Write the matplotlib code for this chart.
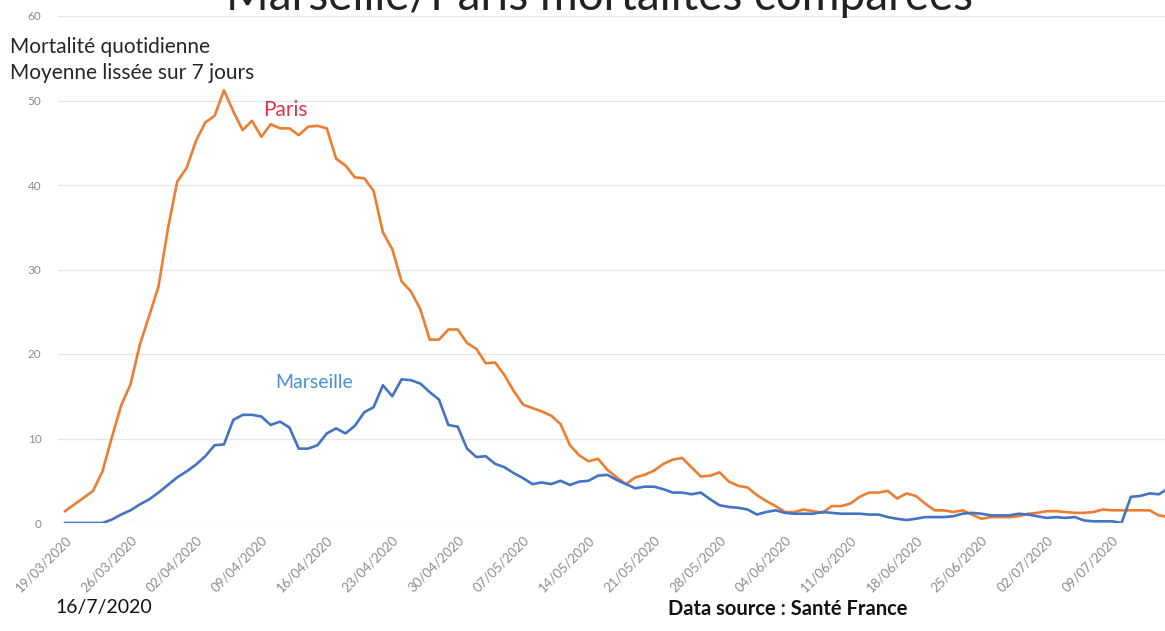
import matplotlib.pyplot as plt
import pandas as pd

plt.rcParams['font.family'] = ['Lato', 'DejaVu Sans']

# Daily mortality, 7-day smoothed mean, starting 19/03/2020
paris = [1.4, 2.2, 3.0, 3.8, 6.1, 10.1, 13.9, 16.4, 21.1, 24.5,
         28.0, 34.8, 40.4, 42.0, 45.2, 47.4, 48.2, 51.2, 48.7, 46.5,
         47.6, 45.7, 47.2, 46.7, 46.7, 45.9, 46.9, 47.0, 46.7, 43.1,
         42.3, 40.9, 40.8, 39.3, 34.4, 32.4, 28.6, 27.4, 25.3, 21.7,
         21.7, 22.9, 22.9, 21.3, 20.6, 18.9, 19.0, 17.5, 15.6, 14.0,
         13.6, 13.2, 12.7, 11.7, 9.2, 8.0, 7.3, 7.6, 6.3, 5.4,
         4.6, 5.4, 5.7, 6.2, 7.0, 7.5, 7.7, 6.6, 5.5, 5.6,
         6.0, 4.9, 4.4, 4.2, 3.3, 2.6, 2.0, 1.3, 1.3, 1.6,
         1.4, 1.2, 2.0, 2.0, 2.3, 3.1, 3.6, 3.6, 3.8, 2.9,
         3.5, 3.2, 2.3, 1.5, 1.5, 1.3, 1.5, 1.0, 0.5, 0.7,
         0.7, 0.7, 0.8, 1.1, 1.2, 1.4, 1.4, 1.3, 1.2, 1.2,
         1.3, 1.6, 1.5, 1.5, 1.5, 1.5, 1.5, 0.9, 0.7]

marseille = [0.0, 0.0, 0.0, 0.0, 0.0, 0.4, 1.0, 1.5, 2.2, 2.8,
             3.6, 4.5, 5.4, 6.1, 6.9, 7.9, 9.2, 9.3, 12.2, 12.8,
             12.8, 12.6, 11.6, 12.0, 11.3, 8.8, 8.8, 9.2, 10.6, 11.2,
             10.6, 11.5, 13.1, 13.7, 16.3, 15.0, 17.0, 16.9, 16.5, 15.5,
             14.6, 11.6, 11.4, 8.8, 7.8, 7.9, 7.0, 6.6, 5.9, 5.3,
             4.6, 4.8, 4.6, 5.0, 4.5, 4.9, 5.0, 5.6, 5.7, 5.1,
             4.6, 4.1, 4.3, 4.3, 4.0, 3.6, 3.6, 3.4, 3.6, 2.8,
             2.1, 1.9, 1.8, 1.6, 1.0, 1.3, 1.5, 1.2, 1.1, 1.1,
             1.1, 1.3, 1.2, 1.1, 1.1, 1.1, 1.0, 1.0, 0.7, 0.5,
             0.35, 0.5, 0.7, 0.7, 0.7, 0.8, 1.1, 1.2, 1.1, 0.9,
             0.9, 0.9, 1.1, 1.0, 0.8, 0.6, 0.7, 0.6, 0.7, 0.3,
             0.2, 0.2, 0.2, 0.0, 3.1, 3.2, 3.5, 3.4, 4.1]

dates = pd.date_range('2020-03-19', periods=len(paris), freq='D')
tick_dates = dates[::7]
tick_labels = [d.strftime('%d/%m/%Y') for d in tick_dates]

fig = plt.figure(figsize=(11.65, 6.31), dpi=100)
ax = fig.add_axes([58 / 1165, 108 / 631, 1 - 58 / 1165, 507 / 631])

ax.plot(dates, paris, color='#ED7D31', lw=1.9)
ax.plot(dates, marseille, color='#4472C4', lw=1.9)

ax.set_ylim(0, 60)
ax.set_yticks(range(0, 61, 10))
ax.set_xlim(dates[0] - pd.Timedelta(hours=18), dates[0] + pd.Timedelta(days=117.65))
ax.set_xticks(tick_dates)
ax.set_xticklabels(tick_labels, rotation=45, ha='right', rotation_mode='anchor')

ax.grid(axis='y', color='#e6e6e6', lw=1)
ax.set_axisbelow(True)
for s in ax.spines.values():
    s.set_visible(False)
ax.tick_params(axis='both', length=0, labelcolor='#8c8c8c')
ax.tick_params(axis='y', pad=12, labelsize=8.5)
ax.tick_params(axis='x', pad=8, labelsize=9.5)

fig.text(0.515, 1 - 10 / 631, 'Marseille/Paris mortalités comparées',
         ha='center', va='baseline', fontsize=33, color='#222222')
fig.text(10 / 1165, 1 - 47 / 631, 'Mortalité quotidienne', ha='left', va='center',
         fontsize=15, color='#262626')
fig.text(10 / 1165, 1 - 73 / 631, 'Moyenne lissée sur 7 jours', ha='left', va='center',
         fontsize=15, color='#262626')
fig.text(263 / 1165, 1 - 110 / 631, 'Paris', ha='left', va='center',
         fontsize=15, color='#e0334f')
fig.text(275 / 1165, 1 - 383 / 631, 'Marseille', ha='left', va='center',
         fontsize=14, color='#4a8fd4')
fig.text(55 / 1165, 1 - 608 / 631, '16/7/2020', ha='left', va='center',
         fontsize=14, color='#111111')
fig.text(668 / 1165, 1 - 609 / 631, 'Data source : Santé France', ha='left', va='center',
         fontsize=14.5, fontweight='bold', color='#111111')

fig.savefig('out.png', dpi=100)
